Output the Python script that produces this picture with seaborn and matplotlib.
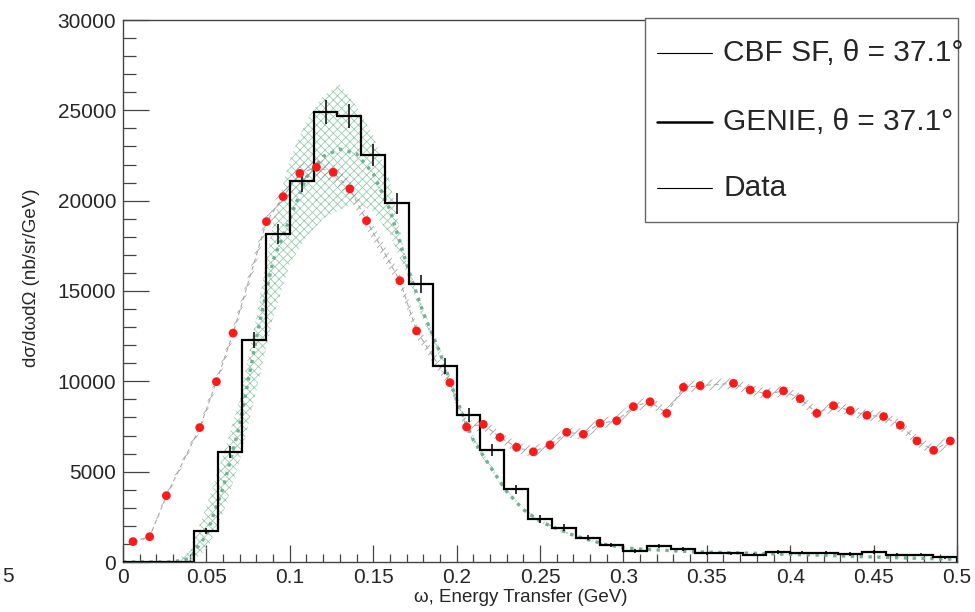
import numpy as np
import matplotlib
matplotlib.use("Agg")
import matplotlib.pyplot as plt
import seaborn as sns
from matplotlib.patches import Rectangle
from matplotlib.lines import Line2D
from matplotlib.ticker import MultipleLocator

# ---- values ----

# CBF SF prediction (line + uncertainty band), on a 0.01 GeV grid
cbf_omega = [round(0.01 * i, 2) for i in range(51)]
cbf_central = [0, 0, 0, 0, 200, 1500, 4100, 7600, 12400, 16700, 19000, 21300, 22450,
               22850, 22600, 21500, 19500, 16500, 13800, 11600, 8970, 6750, 5300, 3900,
               2900, 2250, 1850, 1480, 1200, 960, 790, 720, 670, 620, 580, 550, 520, 500,
               480, 450, 420, 400, 370, 340, 300, 280, 250, 220, 200, 170, 150]
cbf_upper = [0, 0, 0, 0, 600, 3060, 5900, 9000, 13600, 18800, 22300, 24450, 25800,
             26450, 25200, 23600, 21100, 16600, 14000, 11800, 9200, 6950, 5450, 4020,
             2990, 2320, 1910, 1530, 1240, 990, 815, 740, 690, 640, 600, 565, 535, 515,
             495, 465, 435, 415, 385, 355, 315, 290, 260, 230, 210, 180, 160]
cbf_lower = [0, 0, 0, 0, 0, 600, 2700, 5600, 9500, 13500, 16500, 18000, 19000,
             19500, 19900, 19400, 18100, 16000, 13400, 11300, 8750, 6550, 5150, 3780,
             2810, 2180, 1790, 1430, 1160, 930, 765, 700, 650, 600, 560, 535, 505, 485,
             465, 435, 405, 385, 355, 325, 285, 270, 240, 210, 190, 160, 140]

# GENIE histogram, 35 bins over 0..0.5 GeV
genie_edges = [i / 70 for i in range(36)]
genie_counts = [0, 0, 0, 1700, 6100, 12290, 18140, 21100, 24890, 24700, 22530, 19850,
                15390, 10870, 8140, 6200, 4020, 2380, 1900, 1350, 940, 610, 890, 700,
                480, 480, 390, 570, 520, 520, 440, 570, 390, 390, 260]
genie_errors = [0, 0, 0, 175, 330, 465, 565, 610, 660, 660, 630, 590, 520, 440, 380,
                330, 265, 205, 185, 155, 130, 105, 125, 110, 90, 90, 85, 100, 95, 95,
                90, 100, 85, 85, 70]

# Data points with their error band
data_omega = [0.006, 0.016, 0.026, 0.046, 0.056, 0.066, 0.086, 0.096, 0.106, 0.116,
              0.126, 0.136, 0.146, 0.166, 0.176, 0.196, 0.206, 0.216, 0.226, 0.236,
              0.246, 0.256, 0.266, 0.276, 0.286, 0.296, 0.306, 0.316, 0.326, 0.336,
              0.346, 0.366, 0.376, 0.386, 0.396, 0.406, 0.416, 0.426, 0.436, 0.446,
              0.456, 0.466, 0.476, 0.486, 0.496]
data_xsec = [1130, 1400, 3670, 7440, 9980, 12670, 18840, 20220, 21510, 21850, 21570,
             20650, 18890, 15570, 12790, 9930, 7470, 7620, 6900, 6350, 6100, 6480, 7180,
             7070, 7680, 7820, 8600, 8870, 8230, 9670, 9760, 9890, 9520, 9300, 9470,
             9040, 8230, 8650, 8380, 8120, 8050, 7570, 6700, 6180, 6700]
data_err = [80, 90, 150, 250, 300, 350, 450, 500, 500, 500, 500, 500, 450, 400, 380,
            350, 320, 320, 300, 300, 300, 300, 300, 300, 300, 300, 300, 300, 300, 300,
            300, 300, 300, 300, 300, 300, 300, 300, 300, 300, 300, 300, 300, 300, 300]

legend_labels = ["CBF SF, \u03b8 = 37.1\u00b0", "GENIE, \u03b8 = 37.1\u00b0", "Data"]

# ---- plot ----
sns.set_theme(style="white")
plt.rcParams["font.family"] = ["Liberation Sans", "DejaVu Sans"]
plt.rcParams["hatch.linewidth"] = 0.55

W, H = 975, 612
fig = plt.figure(figsize=(W / 100, H / 100), dpi=100)
ax = fig.add_axes([123 / W, 1 - 562 / H, (957 - 123) / W, (562 - 20) / H])

# CBF SF band and central line
ax.fill_between(cbf_omega, cbf_lower, cbf_upper, facecolor="none", edgecolor="#8fcaad",
                hatch="xxxx", linewidth=0, zorder=1)
sns.lineplot(x=cbf_omega, y=cbf_central, ax=ax, color="#72b093", linestyle=":",
             linewidth=2.4, zorder=2)

# data band + connecting line
lo = np.array(data_xsec) - np.array(data_err)
hi = np.array(data_xsec) + np.array(data_err)
ax.fill_between(data_omega, lo, hi, facecolor="none", edgecolor="#9a9a9a",
                hatch="////", linewidth=0, zorder=3)
sns.lineplot(x=data_omega, y=data_xsec, ax=ax, color="#a8a8a8", linestyle=(0, (4, 3)),
             linewidth=0.8, zorder=3)

# GENIE histogram with error bars
ax.stairs(genie_counts, genie_edges, color="black", linewidth=1.6, zorder=4)
centers = [(genie_edges[i] + genie_edges[i + 1]) / 2 for i in range(len(genie_counts))]
ax.errorbar(centers[3:], genie_counts[3:], yerr=genie_errors[3:], fmt="none",
            ecolor="black", elinewidth=1.1, capsize=0, zorder=4)

# data points
sns.scatterplot(x=data_omega, y=data_xsec, ax=ax, color="#ff1a1a", s=40,
                edgecolor="none", zorder=5)

ax.set_xlim(0, 0.5)
ax.set_ylim(0, 30000)
ax.xaxis.set_major_locator(MultipleLocator(0.05))
ax.xaxis.set_minor_locator(MultipleLocator(0.01))
ax.yaxis.set_major_locator(MultipleLocator(5000))
ax.yaxis.set_minor_locator(MultipleLocator(1000))
ax.set_xticks(np.arange(0, 0.51, 0.05))
ax.set_xticklabels(["0", "0.05", "0.1", "0.15", "0.2", "0.25", "0.3", "0.35", "0.4",
                    "0.45", "0.5"])
ax.tick_params(axis="x", which="major", direction="in", length=12, width=0.9,
               color="#444444", labelsize=15, pad=4)
ax.tick_params(axis="x", which="minor", direction="in", length=5.5, width=0.9,
               color="#444444")
ax.tick_params(axis="y", which="major", direction="in", length=19, width=0.9,
               color="#444444", labelsize=15, pad=5)
ax.tick_params(axis="y", which="minor", direction="in", length=9.5, width=0.9,
               color="#444444")
ax.tick_params(bottom=True, left=True, top=False, right=False, which="both")
for s in ax.spines.values():
    s.set_color("#444444")
    s.set_linewidth(1.0)
ax.set_xlabel("")
ax.set_ylabel("")

fig.text(521 / W, 1 - 598 / H, "\u03c9, Energy Transfer (GeV)", ha="center",
         va="center", fontsize=13.5)
fig.text(32 / W, 1 - 278 / H, "d\u03c3/d\u03c9d\u03a9 (nb/sr/GeV)", ha="center",
         va="center", rotation=90, fontsize=13.5)
fig.text(2 / W, 1 - 577 / H, "5", ha="left", va="center", fontsize=15)

# legend box drawn like the ROOT TLegend
fig.patches.append(Rectangle((645 / W, 1 - 222 / H), 313 / W, 204 / H,
                             transform=fig.transFigure, facecolor="white",
                             edgecolor="#666666", linewidth=1.0, zorder=10))
legend_y = [53, 122, 188]
legend_lw = [0.8, 1.8, 0.8]
for lab, yy, lw in zip(legend_labels, legend_y, legend_lw):
    fig.lines.append(Line2D([657 / W, 712 / W], [1 - yy / H, 1 - yy / H],
                            transform=fig.transFigure, color="black", linewidth=lw,
                            zorder=11))
    fig.text(723 / W, 1 - yy / H, lab, ha="left", va="center", fontsize=21.5, zorder=11)

fig.savefig("out.png", dpi=100)
